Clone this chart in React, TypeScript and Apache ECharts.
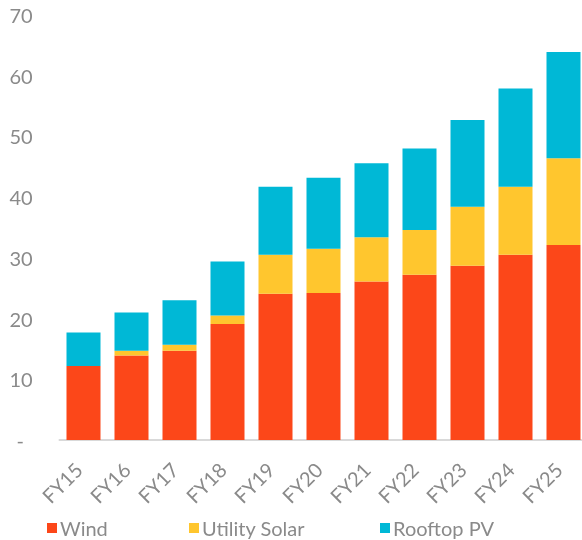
import React, { useEffect, useRef } from "react";
import * as echarts from "echarts";

const categories = ["FY15", "FY16", "FY17", "FY18", "FY19", "FY20", "FY21", "FY22", "FY23", "FY24", "FY25"];
const wind = [12.2, 13.9, 14.7, 19.1, 24.1, 24.2, 26.1, 27.2, 28.7, 30.5, 32.1];
const utilitySolar = [0, 0.8, 1.0, 1.4, 6.4, 7.3, 7.3, 7.4, 9.7, 11.2, 14.3];
const rooftopPV = [5.5, 6.3, 7.3, 8.9, 11.2, 11.7, 12.2, 13.4, 14.3, 16.2, 17.5];
const yTicks = [0, 10, 20, 30, 40, 50, 60, 70];

const FONT = "Lato, 'Noto Sans', sans-serif";
const GRAY = "#8a8a8a";

export default function App() {
  const ref = useRef<HTMLDivElement>(null);
  useEffect(() => {
    if (!ref.current) return;
    document.body.style.margin = "0";
    const chart = echarts.init(ref.current, undefined, { renderer: "svg" });
    const legendBase = {
      top: 518,
      icon: "rect",
      itemWidth: 10,
      itemHeight: 10,
      itemGap: 0,
      selectedMode: false,
      padding: 0,
      textStyle: { color: GRAY, fontSize: 20, fontFamily: FONT, padding: [0, 0, 0, -2] },
    };
    chart.setOption({
      animation: false,
      textStyle: { fontFamily: FONT },
      grid: { left: 59.5, top: 15, width: 528, height: 425 },
      legend: [
        { ...legendBase, left: 47, data: ["Wind"] },
        { ...legendBase, left: 189, data: ["Utility Solar"] },
        { ...legendBase, left: 380, data: ["Rooftop PV"] },
      ],
      xAxis: {
        type: "category",
        data: categories,
        axisLine: { show: true, lineStyle: { color: "#d9d9d9", width: 2 } },
        axisTick: { show: false },
        axisLabel: {
          rotate: 45,
          color: GRAY,
          fontSize: 20,
          fontFamily: FONT,
          margin: 21,
          padding: [0, 7, 0, 0],
          interval: 0,
        },
      },
      yAxis: {
        type: "value",
        min: yTicks[0],
        max: yTicks[yTicks.length - 1],
        interval: 10,
        axisLine: { show: false },
        axisTick: { show: false },
        splitLine: { show: false },
        axisLabel: {
          color: GRAY,
          fontSize: 20,
          fontFamily: FONT,
          align: "left",
          margin: 50,
          formatter: (v: number) => (v === 0 ? "{d|-}" : String(v)),
          rich: { d: { color: GRAY, fontSize: 20, fontFamily: FONT, padding: [0, 0, 0, 7] } },
        },
      },
      series: [
        { name: "Wind", type: "bar", stack: "total", data: wind, barWidth: 34, itemStyle: { color: "#FC4719" } },
        { name: "Utility Solar", type: "bar", stack: "total", data: utilitySolar, barWidth: 34, itemStyle: { color: "#FFC62E" } },
        { name: "Rooftop PV", type: "bar", stack: "total", data: rooftopPV, barWidth: 34, itemStyle: { color: "#00B8D6" } },
      ],
    });
    return () => chart.dispose();
  }, []);
  return (
    <div style={{ position: "fixed", left: 0, top: 0, width: 582, height: 540, overflow: "hidden" }}>
      <div ref={ref} style={{ width: 600, height: 540 }} />
    </div>
  );
}
